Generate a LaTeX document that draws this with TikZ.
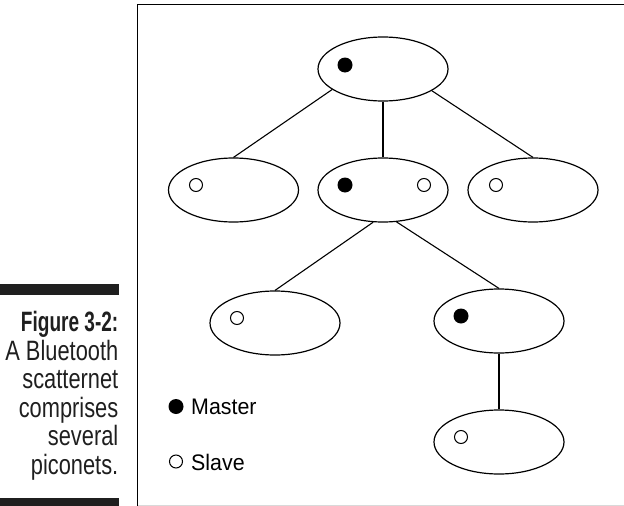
\documentclass[tikz,border=0pt]{standalone}
\usepackage{fontspec}
\setmainfont{Liberation Sans}
\newfontfamily\capfont[FakeStretch=0.78,BoldFeatures={FakeStretch=0.68}]{Liberation Sans}
\newfontfamily\legfont[FakeStretch=0.95]{Liberation Sans}
\usetikzlibrary{shapes.geometric}
\tikzset{
  pico/.style={ellipse, draw, line width=1.2pt, minimum width=130pt, minimum height=64pt, inner sep=0pt},
  masterdot/.style={circle, fill=black, minimum size=15pt, inner sep=0pt},
  slavedot/.style={circle, draw, fill=white, line width=1pt, minimum size=13pt, inner sep=0pt},
  link/.style={line width=1.1pt},
  captext/.style={anchor=base east, inner sep=0pt, font=\capfont\fontsize{28}{28}\selectfont, text=black!88},
  legtext/.style={anchor=base west, inner sep=0pt, font=\legfont\fontsize{22.5}{22.5}\selectfont}
}
\begin{document}
\begin{tikzpicture}[x=1pt, y=-1pt]
\useasboundingbox (0,0) rectangle (624,506);
% frame
\draw[line width=1.5pt] (624,4.5) -- (137.5,4.5) -- (137.5,506);
\draw[black!15, line width=1pt] (138,505.5) -- (624,505.5);
% caption bars
\fill[black!88] (0,284) rectangle (119,295);
\fill[black!88] (0,497.5) rectangle (119,506);
% caption text
\node[captext] (c1) at (118.5,331.5) {\bfseries Figure 3-2:};
\node[captext] (c2) at (118.5,360) {A Bluetooth};
\node[captext] (c3) at (118.5,388.5) {scatternet};
\node[captext] (c4) at (118.5,417) {comprises};
\node[captext] (c5) at (118.5,445.5) {several};
\node[captext] (c6) at (118.5,474) {piconets.};
% piconet ellipses
\node[pico] (top) at (383,69) {};
\node[pico] (m1) at (233.5,190) {};
\node[pico] (m2) at (383,190) {};
\node[pico] (m3) at (533,190) {};
\node[pico] (l1) at (275,323) {};
\node[pico] (l2) at (499,321) {};
\node[pico] (b) at (499,442) {};
% connectors
\draw[link] (top.202) -- (m1.north);
\draw[link] (top.south) -- (m2.north);
\draw[link] (top.-24) -- (m3.north);
\draw[link] (m2.253) -- (l1.north);
\draw[link] (m2.293) -- (l2.north);
\draw[link] (l2.south) -- (b.north);
% devices
\node[masterdot] (d0) at (345,65) {};
\node[slavedot] (d1) at (196,185) {};
\node[masterdot] (d2) at (345,185) {};
\node[slavedot] (d3) at (424,185) {};
\node[slavedot] (d4) at (496,185) {};
\node[slavedot] (d5) at (237,318) {};
\node[masterdot] (d6) at (461,316) {};
\node[slavedot] (d7) at (461,437) {};
% legend
\node[masterdot] (lm) at (176,406.5) {};
\node[legtext] (lmt) at (191,414.5) {Master};
\node[slavedot] (ls) at (176,461.5) {};
\node[legtext] (lst) at (191,470) {Slave};
\end{tikzpicture}
\end{document}
